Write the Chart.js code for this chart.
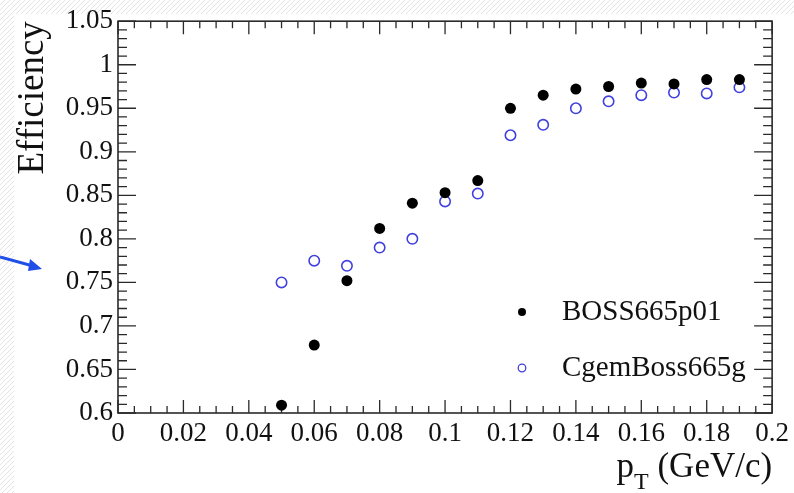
<!DOCTYPE html>
<html lang="en">
<head>
<meta charset="UTF-8">
<title>Efficiency vs pT</title>
<script src="https://cdn.jsdelivr.net/npm/chart.js"></script>
<style>
  html, body { margin: 0; padding: 0; background: #fff; }
  #wrap { width: 794px; height: 493px; }
</style>
</head>
<body>
<div id="wrap"><canvas id="grafica"></canvas></div>
<script>
// datos
const ptValues = [0.05, 0.06, 0.07, 0.08, 0.09, 0.10, 0.11, 0.12, 0.13, 0.14, 0.15, 0.16, 0.17, 0.18, 0.19];
const effBoss = [0.609, 0.678, 0.752, 0.812, 0.841, 0.853, 0.867, 0.950, 0.965, 0.972, 0.975, 0.979, 0.978, 0.983, 0.983];
const effCgem = [0.750, 0.775, 0.769, 0.790, 0.800, 0.843, 0.852, 0.919, 0.931, 0.950, 0.958, 0.965, 0.968, 0.967, 0.974];
const seriesNames = ['BOSS665p01', 'CgemBoss665g'];
const xTicks = [0, 0.02, 0.04, 0.06, 0.08, 0.1, 0.12, 0.14, 0.16, 0.18, 0.2];
const yTicks = [0.6, 0.65, 0.7, 0.75, 0.8, 0.85, 0.9, 0.95, 1, 1.05];

const serif = '"Liberation Serif", "DejaVu Serif", serif';
const blue = '#4040e0';

function toPoints(ys) {
    return ptValues.map((x, i) => ({ x: x, y: ys[i] }));
}
function fmt(v) {
    return String(+Number(v).toFixed(3));
}

// fondo rayado y flecha (captura de diapositiva)
const fondo = {
    id: 'fondo',
    beforeDraw(chart) {
        const ctx = chart.ctx;
        const w = chart.width, h = chart.height;
        ctx.save();
        ctx.fillStyle = '#fff';
        ctx.fillRect(0, 0, w, h);
        ctx.beginPath();
        ctx.rect(0, 0, w, 14);
        ctx.rect(0, 14, 14, h - 14);
        ctx.clip();
        ctx.strokeStyle = '#e4e4e4';
        ctx.lineWidth = 1;
        for (let k = -h; k < w + h; k += 5) {
            ctx.beginPath();
            ctx.moveTo(k, h);
            ctx.lineTo(k + h, 0);
            ctx.stroke();
        }
        ctx.restore();
    },
    afterDraw(chart) {
        const ctx = chart.ctx;
        ctx.save();
        ctx.strokeStyle = '#1f4fe8';
        ctx.fillStyle = '#1f4fe8';
        ctx.lineWidth = 3;
        ctx.beginPath();
        ctx.moveTo(0, 257);
        ctx.lineTo(33, 266);
        ctx.stroke();
        ctx.beginPath();
        ctx.moveTo(42, 269);
        ctx.lineTo(30, 259);
        ctx.lineTo(28, 271);
        ctx.closePath();
        ctx.fill();
        ctx.restore();
    }
};

// marco estilo ROOT con marcas hacia dentro
const marco = {
    id: 'marco',
    beforeDatasetsDraw(chart) {
        const ctx = chart.ctx;
        const a = chart.chartArea;
        const xs = chart.scales.x, ys = chart.scales.y;
        ctx.save();
        ctx.strokeStyle = '#2a2a2a';
        ctx.lineWidth = 1.6;
        ctx.strokeRect(a.left, a.top, a.right - a.left, a.bottom - a.top);
        ctx.lineWidth = 1.3;
        ctx.beginPath();
        const xStep = xTicks[1] - xTicks[0];
        for (let i = 0; i <= (xTicks.length - 1) * 4; i++) {
            const v = xTicks[0] + i * xStep / 4;
            const px = xs.getPixelForValue(v);
            const len = (i % 4 === 0) ? 13 : 7;
            ctx.moveTo(px, a.bottom); ctx.lineTo(px, a.bottom - len);
            ctx.moveTo(px, a.top); ctx.lineTo(px, a.top + len);
        }
        const yStep = yTicks[1] - yTicks[0];
        for (let i = 0; i <= (yTicks.length - 1) * 5; i++) {
            const v = yTicks[0] + i * yStep / 5;
            const py = ys.getPixelForValue(v);
            const len = (i % 5 === 0) ? 18 : 9;
            ctx.moveTo(a.left, py); ctx.lineTo(a.left + len, py);
            ctx.moveTo(a.right, py); ctx.lineTo(a.right - len, py);
        }
        ctx.stroke();
        ctx.restore();
    },
    afterDraw(chart) {
        const ctx = chart.ctx;
        const a = chart.chartArea;
        ctx.save();
        ctx.fillStyle = '#111';
        // titulo eje y
        ctx.translate(43, a.top);
        ctx.rotate(-Math.PI / 2);
        ctx.font = '37px ' + serif;
        ctx.textAlign = 'right';
        ctx.textBaseline = 'alphabetic';
        ctx.fillText('Efficiency', 0, 0);
        ctx.restore();

        // titulo eje x con subindice
        ctx.save();
        ctx.fillStyle = '#111';
        ctx.textBaseline = 'alphabetic';
        ctx.font = '35px ' + serif;
        const rest = ' (GeV/c)';
        const wRest = ctx.measureText(rest).width;
        ctx.font = '24px ' + serif;
        const wSub = ctx.measureText('T').width;
        ctx.font = '35px ' + serif;
        const wP = ctx.measureText('p').width;
        const x0 = a.right - wRest - wSub - wP;
        const base = 477;
        ctx.fillText('p', x0, base);
        ctx.fillText(rest, x0 + wP + wSub, base);
        ctx.font = '24px ' + serif;
        ctx.fillText('T', x0 + wP, base + 12);

        // leyenda
        ctx.font = '29px ' + serif;
        ctx.textBaseline = 'middle';
        ctx.textAlign = 'left';
        ctx.fillText(seriesNames[0], 562, 312);
        ctx.fillText(seriesNames[1], 562, 368);
        ctx.beginPath();
        ctx.arc(522, 312, 4, 0, Math.PI * 2);
        ctx.fillStyle = '#000';
        ctx.fill();
        ctx.beginPath();
        ctx.arc(522, 368, 3.8, 0, Math.PI * 2);
        ctx.strokeStyle = blue;
        ctx.lineWidth = 1.3;
        ctx.stroke();
        ctx.restore();
    }
};

const ctx = document.getElementById('grafica').getContext('2d');
const grafica = new Chart(ctx, {
    type: 'scatter',
    data: {
        datasets: [{
            label: seriesNames[0],
            data: toPoints(effBoss),
            pointStyle: 'circle',
            pointRadius: 5.5,
            backgroundColor: '#000',
            borderColor: '#000',
            borderWidth: 0
        }, {
            label: seriesNames[1],
            data: toPoints(effCgem),
            pointStyle: 'circle',
            pointRadius: 5.2,
            backgroundColor: 'rgba(0,0,0,0)',
            borderColor: blue,
            borderWidth: 1.6
        }]
    },
    options: {
        responsive: true,
        maintainAspectRatio: false,
        animation: false,
        layout: { padding: { top: 20, right: 19, left: 0, bottom: 0 } },
        plugins: {
            legend: { display: false },
            tooltip: { enabled: false }
        },
        scales: {
            x: {
                type: 'linear',
                min: 0,
                max: 0.2,
                grid: { display: false, drawTicks: false },
                border: { display: false },
                afterBuildTicks: s => { s.ticks = xTicks.map(v => ({ value: v })); },
                afterFit: s => { s.height = 80; },
                ticks: {
                    color: '#111',
                    font: { family: serif, size: 27 },
                    padding: 5,
                    maxRotation: 0,
                    autoSkip: false,
                    callback: v => fmt(v)
                }
            },
            y: {
                type: 'linear',
                min: 0.6,
                max: 1.05,
                grid: { display: false, drawTicks: false },
                border: { display: false },
                afterBuildTicks: s => { s.ticks = yTicks.map(v => ({ value: v })); },
                afterFit: s => { s.width = 118; },
                ticks: {
                    color: '#111',
                    font: { family: serif, size: 27 },
                    padding: 5,
                    autoSkip: false,
                    callback: v => fmt(v)
                }
            }
        }
    },
    plugins: [fondo, marco]
});
</script>
</body>
</html>
